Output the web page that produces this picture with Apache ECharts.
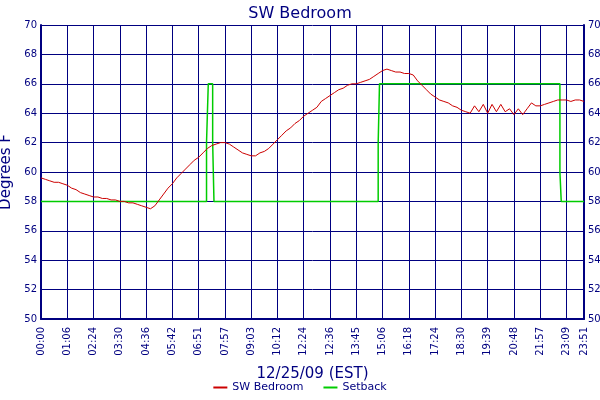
<!DOCTYPE html>
<html><head><meta charset="utf-8">
<script src="https://cdn.jsdelivr.net/npm/echarts@6/dist/echarts.min.js"></script>
<style>html,body{margin:0;padding:0;background:#fff}#c{width:600px;height:400px}</style>
</head><body><div id="c"></div>
<script>
const tickLabels = ["00:00","01:06","02:24","03:30","04:36","05:42","06:51","07:57","09:03","10:12","12:24","12:36","13:45","15:06","16:18","17:24","18:30","19:39","20:48","21:57","23:09","23:51"];
const temps = [59.6,59.5,59.4,59.3,59.3,59.2,59.1,58.9,58.8,58.6,58.5,58.4,58.3,58.3,58.2,58.2,58.1,58.1,58.0,58.0,
57.9,57.9,57.8,57.7,57.6,57.5,57.7,58.1,58.5,58.9,59.2,59.6,59.9,60.2,60.5,60.8,61.0,61.3,61.6,61.8,
61.9,62.0,62.0,61.9,61.7,61.5,61.3,61.2,61.1,61.1,61.3,61.4,61.6,61.9,62.2,62.5,62.8,63.0,63.3,63.5,
63.8,64.0,64.2,64.4,64.8,65.0,65.2,65.4,65.6,65.7,65.9,66.0,66.0,66.1,66.2,66.3,66.5,66.7,66.9,67.0,
66.9,66.8,66.8,66.7,66.7,66.6,66.2,65.9,65.6,65.3,65.1,64.9,64.8,64.7,64.5,64.4,64.2,64.1,64.0,64.5,
64.1,64.6,64.0,64.6,64.1,64.6,64.1,64.3,63.9,64.3,63.9,64.3,64.7,64.5,64.5,64.6,64.7,64.8,64.9,64.9,
64.9,64.8,64.9,64.9,64.8];
const setbackX = [0,37.8,37.8,38.2,38.2,39.2,39.2,39.5,39.5,77.0,77.0,77.3,77.3,118.5,118.5,118.8,118.8,124];
const setbackY = [58,58,62,62,66,66,62,62,58,58,62,62,66,66,60,60,58,58];

const N = temps.length;
const cats = temps.map((_, i) => String(i));
const lastIdx = N - 1;
const labelAt = i => (i % 6 === 0 && i / 6 < tickLabels.length - 1) ? tickLabels[i / 6] : (i === lastIdx ? tickLabels[tickLabels.length - 1] : '');
const showAt = i => i % 6 === 0 || i === lastIdx;
const navy = '#000080';
const font = 'DejaVu Sans';
const chart = echarts.init(document.getElementById('c'));
chart.setOption({
  animation: false,
  backgroundColor: '#fff',
  title: { text: 'SW Bedroom', left: 'center', top: 1, textStyle: { color: navy, fontFamily: font, fontSize: 16, fontWeight: 'normal' } },
  grid: { left: 41, right: 16, top: 25, bottom: 81, containLabel: false, outerBoundsMode: 'none' },
  legend: { bottom: 2, left: 'center', itemWidth: 14, itemHeight: 2, icon: 'rect', itemGap: 20,
    textStyle: { color: navy, fontFamily: font, fontSize: 11 },
    data: ['SW Bedroom', 'Setback'] },
  xAxis: [{
    type: 'category', data: cats, boundaryGap: false,
    name: '12/25/09 (EST)', nameLocation: 'middle', nameGap: 48,
    nameTextStyle: { color: navy, fontFamily: font, fontSize: 15 },
    axisLine: { lineStyle: { color: navy, width: 2 } },
    axisTick: { show: false },
    axisLabel: { interval: i => showAt(i), rotate: 90, color: navy, fontFamily: font, fontSize: 10, formatter: (v, i) => labelAt(i) },
    splitLine: { show: true, interval: i => showAt(i), lineStyle: { color: navy, width: 1 } }
  }, {
    type: 'value', min: 0, max: lastIdx, show: false, position: 'bottom'
  }],
  yAxis: [{
    type: 'value', min: 50, max: 70, interval: 2, name: 'Degrees F', nameLocation: 'middle', nameGap: 26,
    nameTextStyle: { color: navy, fontFamily: font, fontSize: 15 },
    axisLine: { show: true, lineStyle: { color: navy, width: 2 } },
    axisTick: { show: false },
    axisLabel: { color: navy, fontFamily: font, fontSize: 10, margin: 4 },
    splitLine: { lineStyle: { color: navy, width: 1 } }
  }, {
    type: 'value', min: 50, max: 70, interval: 2, position: 'right',
    axisLine: { show: true, lineStyle: { color: navy, width: 2 } },
    axisTick: { show: false },
    axisLabel: { color: navy, fontFamily: font, fontSize: 10, margin: 4 },
    splitLine: { show: false }
  }],
  series: [{
    name: 'SW Bedroom', type: 'line', data: temps, xAxisIndex: 0, yAxisIndex: 0,
    showSymbol: false, symbol: 'none', itemStyle: { color: '#cc0000' }, lineStyle: { color: '#cc0000', width: 1 }, z: 3
  }, {
    name: 'Setback', type: 'line', data: setbackX.map((x, i) => [x, setbackY[i]]), xAxisIndex: 1, yAxisIndex: 0,
    showSymbol: false, symbol: 'none', itemStyle: { color: '#00cc00' }, lineStyle: { color: '#00cc00', width: 1.5 }, z: 2
  }]
});
</script></body></html>
